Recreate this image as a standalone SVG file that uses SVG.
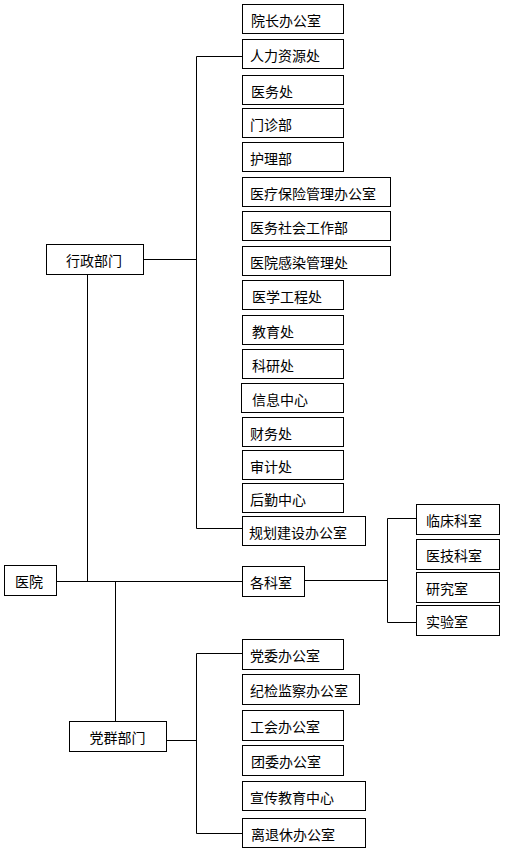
<svg xmlns="http://www.w3.org/2000/svg" width="510" height="857" viewBox="0 0 510 857">
<style>
rect{fill:#fff;stroke:#000;stroke-width:1}
text{font-family:"Noto Sans CJK SC","Noto Sans",sans-serif;font-size:14px;fill:#000;dominant-baseline:central}
.c{text-anchor:middle}
#connectors path{fill:none;stroke:#000;stroke-width:1}
</style>
<rect x="0" y="0" width="510" height="857" style="stroke:none"/>
<g id="connectors">
<path d="M143.5 259.5H196.5M196.5 56.5V528.5M196.5 56.5H242.5M196.5 528.5H242.5"/>
<path d="M87.5 274.5V581.5M56.5 581.5H242.5M115.5 581.5V721.5"/>
<path d="M304.5 580.5H387.5M387.5 518.5V622.5M387.5 518.5H416.5M387.5 622.5H416.5"/>
<path d="M166.5 740.5H196.5M196.5 653.5V833.5M196.5 653.5H242.5M196.5 833.5H242.5"/>
</g>
<g id="n-hospital"><rect x="4.5" y="565.5" width="52" height="30"/><text class="c" x="29" y="581">医院</text></g>
<g id="n-admin"><rect x="46.5" y="244.5" width="97" height="30"/><text class="c" x="94" y="260">行政部门</text></g>
<g id="n-party"><rect x="69.5" y="721.5" width="97" height="30"/><text class="c" x="117.5" y="737">党群部门</text></g>
<g id="n-depts"><rect x="242.5" y="566.5" width="62" height="30"/><text x="250" y="582">各科室</text></g>
<g id="a1"><rect x="242.5" y="4.5" width="101" height="29"/><text x="251" y="19.5">院长办公室</text></g>
<g id="a2"><rect x="242.5" y="39.5" width="101" height="29"/><text x="250" y="54.5">人力资源处</text></g>
<g id="a3"><rect x="242.5" y="75.5" width="101" height="29"/><text x="251" y="90.5">医务处</text></g>
<g id="a4"><rect x="242.5" y="108.5" width="101" height="29"/><text x="250" y="124">门诊部</text></g>
<g id="a5"><rect x="242.5" y="142.5" width="101" height="29"/><text x="250" y="158">护理部</text></g>
<g id="a6"><rect x="242.5" y="177.5" width="148" height="29"/><text x="250" y="193">医疗保险管理办公室</text></g>
<g id="a7"><rect x="242.5" y="211.5" width="148" height="29"/><text x="250" y="227">医务社会工作部</text></g>
<g id="a8"><rect x="242.5" y="246.5" width="148" height="29"/><text x="250" y="262">医院感染管理处</text></g>
<g id="a9"><rect x="242.5" y="280.5" width="101" height="29"/><text x="252" y="296">医学工程处</text></g>
<g id="a10"><rect x="242.5" y="315.5" width="101" height="29"/><text x="252" y="331">教育处</text></g>
<g id="a11"><rect x="242.5" y="349.5" width="101" height="29"/><text x="252" y="365">科研处</text></g>
<g id="a12"><rect x="241.5" y="383.5" width="102" height="29"/><text x="252" y="399">信息中心</text></g>
<g id="a13"><rect x="242.5" y="417.5" width="101" height="29"/><text x="250" y="433">财务处</text></g>
<g id="a14"><rect x="242.5" y="450.5" width="101" height="29"/><text x="250" y="466">审计处</text></g>
<g id="a15"><rect x="242.5" y="483.5" width="101" height="29"/><text x="250" y="499">后勤中心</text></g>
<g id="a16"><rect x="242.5" y="516.5" width="123" height="29"/><text x="249" y="532">规划建设办公室</text></g>
<g id="d1"><rect x="416.5" y="504.5" width="83" height="30"/><text x="426" y="520">临床科室</text></g>
<g id="d2"><rect x="416.5" y="539.5" width="83" height="30"/><text x="426" y="555">医技科室</text></g>
<g id="d3"><rect x="416.5" y="572.5" width="83" height="30"/><text x="426" y="588">研究室</text></g>
<g id="d4"><rect x="416.5" y="605.5" width="83" height="30"/><text x="426" y="621">实验室</text></g>
<g id="p1"><rect x="242.5" y="639.5" width="101" height="30"/><text x="250" y="655">党委办公室</text></g>
<g id="p2"><rect x="242.5" y="674.5" width="117" height="30"/><text x="250" y="690">纪检监察办公室</text></g>
<g id="p3"><rect x="242.5" y="710.5" width="101" height="30"/><text x="250" y="726">工会办公室</text></g>
<g id="p4"><rect x="242.5" y="745.5" width="101" height="30"/><text x="251" y="761">团委办公室</text></g>
<g id="p5"><rect x="242.5" y="781.5" width="123" height="29"/><text x="250" y="797">宣传教育中心</text></g>
<g id="p6"><rect x="242.5" y="818.5" width="123" height="29"/><text x="251" y="834">离退休办公室</text></g>
</svg>
